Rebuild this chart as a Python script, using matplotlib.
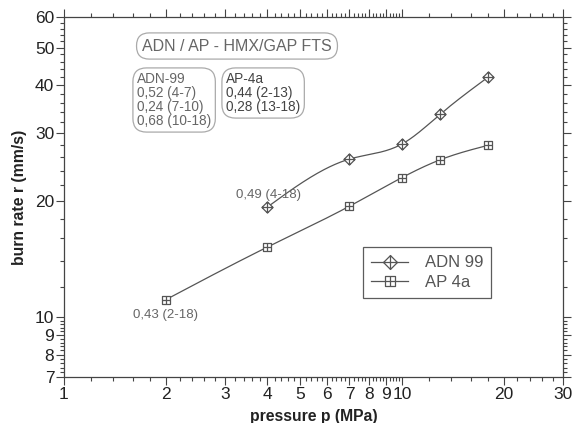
import numpy as np
import matplotlib
matplotlib.use("Agg")
import matplotlib.pyplot as plt
from matplotlib.path import Path
from matplotlib.ticker import FixedLocator, FixedFormatter, NullFormatter

plt.rcParams['font.family'] = ['Liberation Sans', 'DejaVu Sans']

# Burn rate data (pressure in MPa, burn rate in mm/s)
p_adn = [4, 7, 10, 13, 18]
r_adn = [19.3, 25.7, 28.1, 33.6, 41.9]
p_ap = [2, 4, 7, 10, 13, 18]
r_ap = [11.1, 15.2, 19.4, 23.0, 25.6, 27.9]

series_names = ["ADN 99", "AP 4a"]
title_text = "ADN / AP - HMX/GAP FTS"
adn_box = "ADN-99\n0,52 (4-7)\n0,24 (7-10)\n0,68 (10-18)"
ap_box = "AP-4a\n0,44 (2-13)\n0,28 (13-18)"
adn_note = "0,49 (4-18)"
ap_note = "0,43 (2-18)"

x_major = [1, 2, 3, 4, 5, 6, 7, 8, 9, 10, 20, 30]
y_major = [7, 8, 9, 10, 20, 30, 40, 50, 60]


def natural_spline(x, y, n=200):
    """Natural cubic spline through (x, y), evaluated on a dense grid."""
    x = np.asarray(x, float)
    y = np.asarray(y, float)
    k = len(x)
    h = np.diff(x)
    A = np.zeros((k, k))
    b = np.zeros(k)
    A[0, 0] = A[-1, -1] = 1
    for i in range(1, k - 1):
        A[i, i - 1] = h[i - 1]
        A[i, i] = 2 * (h[i - 1] + h[i])
        A[i, i + 1] = h[i]
        b[i] = 6 * ((y[i + 1] - y[i]) / h[i] - (y[i] - y[i - 1]) / h[i - 1])
    M = np.linalg.solve(A, b)
    xs = np.linspace(x[0], x[-1], n)
    idx = np.clip(np.searchsorted(x, xs) - 1, 0, k - 2)
    x0, x1 = x[idx], x[idx + 1]
    hh = x1 - x0
    t0, t1 = x1 - xs, xs - x0
    ys = (M[idx] * t0 ** 3 + M[idx + 1] * t1 ** 3) / (6 * hh) \
        + (y[idx] / hh - M[idx] * hh / 6) * t0 \
        + (y[idx + 1] / hh - M[idx + 1] * hh / 6) * t1
    return xs, ys


def smooth_loglog(p, r):
    lx, ly = natural_spline(np.log10(p), np.log10(r))
    return 10 ** lx, 10 ** ly


# Markers: diamond with a cross, square with a cross
diamond_cross = Path(
    [(0, 1), (1, 0), (0, -1), (-1, 0), (0, 1), (0, 1), (0, -1), (-1, 0), (1, 0)],
    [Path.MOVETO, Path.LINETO, Path.LINETO, Path.LINETO, Path.CLOSEPOLY,
     Path.MOVETO, Path.LINETO, Path.MOVETO, Path.LINETO])
square_cross = Path(
    [(-1, -1), (1, -1), (1, 1), (-1, 1), (-1, -1), (0, -1), (0, 1), (-1, 0), (1, 0)],
    [Path.MOVETO, Path.LINETO, Path.LINETO, Path.LINETO, Path.CLOSEPOLY,
     Path.MOVETO, Path.LINETO, Path.MOVETO, Path.LINETO])

line_col = "#555555"
text_col = "#666666"

fig = plt.figure(figsize=(5.72, 4.23), dpi=100)
ax = fig.add_axes([64 / 572, 1 - 377 / 423, 499 / 572, 360 / 423])
ax.set_xscale('log')
ax.set_yscale('log')
ax.set_xlim(1, 30)
ax.set_ylim(7, 60)

# Curves
xs, ys = smooth_loglog(p_adn, r_adn)
ax.plot(xs, ys, color=line_col, lw=0.9)
ax.plot(p_adn, r_adn, ls='none', marker=diamond_cross, ms=8, mfc='white',
        mec=line_col, mew=0.9)
xs, ys = smooth_loglog(p_ap, r_ap)
ax.plot(xs, ys, color=line_col, lw=0.9)
ax.plot(p_ap, r_ap, ls='none', marker=square_cross, ms=5.5, mfc='white',
        mec=line_col, mew=0.9)

# Legend entries
h1, = ax.plot([], [], color=line_col, lw=0.9, marker=diamond_cross, ms=10,
              mfc='white', mec=line_col, mew=0.9)
h2, = ax.plot([], [], color=line_col, lw=0.9, marker=square_cross, ms=7,
              mfc='white', mec=line_col, mew=0.9)
leg = ax.legend([h1, h2], series_names, loc='upper left',
                bbox_to_anchor=(0.599, 0.361), fancybox=False, frameon=True,
                edgecolor='#333333', fontsize=12, handlelength=2.2,
                handletextpad=1.0, borderpad=0.5, labelspacing=0.25,
                borderaxespad=0, labelcolor='#555555')
leg.get_frame().set_linewidth(0.9)

# Ticks
for axis, major in ((ax.xaxis, x_major), (ax.yaxis, y_major)):
    axis.set_major_locator(FixedLocator(major))
    axis.set_major_formatter(FixedFormatter([str(v) for v in major]))
    minors = []
    for a, b in zip(major[:-1], major[1:]):
        step = (b - a) / 5
        minors += [a + step * i for i in range(1, 5)]
    axis.set_minor_locator(FixedLocator(minors))
    axis.set_minor_formatter(NullFormatter())

ax.tick_params(which='both', direction='out', top=True, right=True,
               color='#444444', width=0.8)
ax.tick_params(which='major', length=6, labelsize=12.5, labelcolor='#222222', pad=1)
ax.tick_params(which='minor', length=3)
ax.tick_params(axis='x', labeltop=False)
ax.tick_params(axis='y', labelright=False)
for s in ax.spines.values():
    s.set_color('#444444')
    s.set_linewidth(0.9)

ax.set_xlabel("pressure p (MPa)", fontsize=11.3, fontweight='bold',
              color='#222222', labelpad=5)
ax.set_ylabel("burn rate r (mm/s)", fontsize=11.3, fontweight='bold',
              color='#222222', labelpad=6)

# Annotations
ax.text((237 - 64) / 499, (377 - 46) / 360, title_text, transform=ax.transAxes,
        fontsize=11.5, color=text_col, ha='center', va='center',
        bbox=dict(boxstyle='round,pad=0.35,rounding_size=0.8', fc='white',
                  ec='#aaaaaa', lw=0.9))
ax.text((137 - 64) / 499, (377 - 72) / 360, adn_box, transform=ax.transAxes,
        fontsize=9.8, color=text_col, ha='left', va='top', linespacing=1.0,
        bbox=dict(boxstyle='round,pad=0.3,rounding_size=1.0', fc='white',
                  ec='#aaaaaa', lw=0.9))
ax.text((226 - 64) / 499, (377 - 72) / 360, ap_box, transform=ax.transAxes,
        fontsize=9.8, color='#444444', ha='left', va='top', linespacing=1.0,
        bbox=dict(boxstyle='round,pad=0.3,rounding_size=1.0', fc='white',
                  ec='#aaaaaa', lw=0.9))
ax.text(3.23, 20.7, adn_note, fontsize=9.5, color=text_col, ha='left', va='center')
ax.text(2.0, 10.15, ap_note, fontsize=9.5, color=text_col, ha='center', va='center')

fig.savefig("out.png", dpi=100, facecolor='white')
